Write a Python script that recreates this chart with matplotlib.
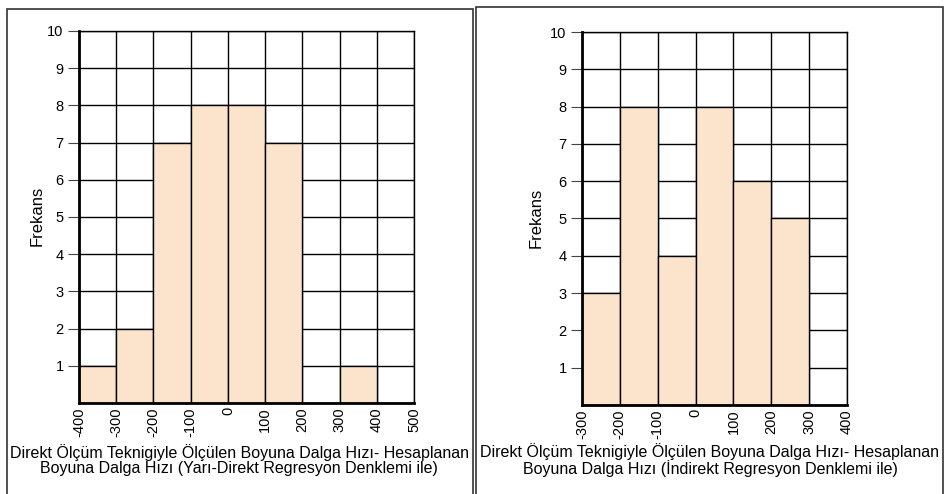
import matplotlib
matplotlib.use("Agg")
import matplotlib.pyplot as plt
from matplotlib.patches import Rectangle
import numpy as np

plt.rcParams['font.family'] = ['Liberation Sans', 'DejaVu Sans']

# Left histogram (Yarı-Direkt)
left_edges = [-400, -300, -200, -100, 0, 100, 200, 300, 400, 500]
left_counts = [1, 2, 7, 8, 8, 7, 0, 1, 0]
# Right histogram (İndirekt)
right_edges = [-300, -200, -100, 0, 100, 200, 300, 400]
right_counts = [3, 8, 4, 8, 6, 5, 0]

y_ticks = list(range(1, 11))
ylabel = "Frekans"
left_xlabel = "Direkt Ölçüm Teknigiyle Ölçülen Boyuna Dalga Hızı- Hesaplanan\nBoyuna Dalga Hızı (Yarı-Direkt Regresyon Denklemi ile)"
right_xlabel = "Direkt Ölçüm Teknigiyle Ölçülen Boyuna Dalga Hızı- Hesaplanan\nBoyuna Dalga Hızı (İndirekt Regresyon Denklemi ile)"

W, H = 944, 494
fig = plt.figure(figsize=(W / 100, H / 100), dpi=100)
fig.patch.set_facecolor('white')

def px(x0, y_top, x1, y_bot):
    return [x0 / W, 1 - y_bot / H, (x1 - x0) / W, (y_bot - y_top) / H]

fill = '#FCE4CC'

def draw(ax, edges, counts):
    widths = np.diff(edges)
    ax.bar(edges[:-1], counts, width=widths, align='edge', color=fill,
           edgecolor='black', linewidth=1.0, zorder=2)
    ax.set_xlim(edges[0], edges[-1])
    ax.set_ylim(0, 10)
    ax.set_xticks(edges)
    ax.set_xticklabels([str(e) for e in edges], rotation=90, fontsize=10.5)
    ax.set_yticks(y_ticks)
    ax.set_yticklabels([str(t) for t in y_ticks], fontsize=10.5)
    ax.grid(True, color='black', linewidth=1.0, zorder=0)
    ax.set_axisbelow(True)
    ax.tick_params(axis='x', length=0, pad=3)
    ax.tick_params(axis='y', length=8, width=0.8, color='#444444', pad=3)
    for s in ['left', 'bottom']:
        ax.spines[s].set_linewidth(2.0)
    for s in ['top', 'right']:
        ax.spines[s].set_linewidth(1.0)
    for s in ax.spines.values():
        s.set_color('black')

ax1 = fig.add_axes(px(79, 31, 414, 403))
draw(ax1, left_edges, left_counts)
ax2 = fig.add_axes(px(582, 32, 847, 405))
draw(ax2, right_edges, right_counts)

fig.text(37 / W, 1 - 216 / H, ylabel, rotation=90, ha='center', va='center', fontsize=12)
fig.text(536 / W, 1 - 218 / H, ylabel, rotation=90, ha='center', va='center', fontsize=12)

fig.text(239 / W, 1 - 460 / H, left_xlabel, ha='center', va='center', fontsize=11.5,
         linespacing=1.0)
fig.text(710 / W, 1 - 460 / H, right_xlabel, ha='center', va='center', fontsize=11.5,
         linespacing=1.0)

# Panel frames
fig.add_artist(Rectangle((7 / W, -0.05), (473 - 7) / W, 1.05 - 9 / H,
                         transform=fig.transFigure, fill=False, edgecolor='#333333', linewidth=1.2))
fig.add_artist(Rectangle((476 / W, -0.05), (943 - 476) / W, 1.05 - 7 / H,
                         transform=fig.transFigure, fill=False, edgecolor='#333333', linewidth=1.2))

fig.savefig('out.png', dpi=100)
